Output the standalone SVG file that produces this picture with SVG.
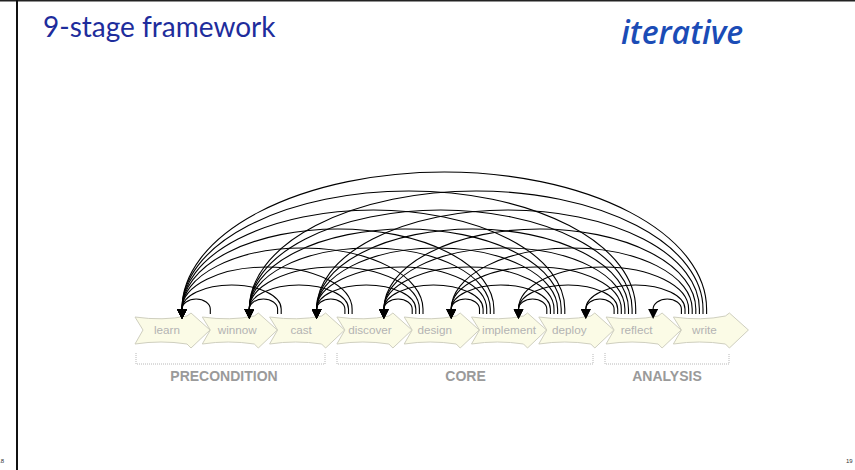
<svg xmlns="http://www.w3.org/2000/svg" xmlns:xlink="http://www.w3.org/1999/xlink" width="855" height="470" viewBox="0 0 855 470">
  <style>
    .title { font-family: "Lato", "Open Sans", "Liberation Sans", sans-serif; font-size: 28px; fill: #1e2d9c; }
    .tag { font-family: "Open Sans", "Liberation Sans", sans-serif; font-style: italic; font-weight: 600; font-size: 32px; fill: #1b4cb6; }
    .stage use { fill: #fbfbe6; stroke: #cfcfbf; stroke-width: 1; }
    .stage text { font-family: "Liberation Sans", Arial, sans-serif; font-size: 11.7px; fill: #b3b3b3; text-anchor: middle; }
    .arc { fill: none; stroke: #000; stroke-width: 1.1; marker-end: url(#head); }
    .bracket { fill: none; stroke: #b8b8b8; stroke-width: 1; stroke-dasharray: 1 1; }
    .phase { font-family: "Liberation Sans", Arial, sans-serif; font-weight: bold; font-size: 14px; fill: #9a9a9a; text-anchor: middle; }
    .page { font-family: "Liberation Sans", Arial, sans-serif; font-size: 6px; fill: #333; }
  </style>
  <defs>
    <marker id="head" markerUnits="userSpaceOnUse" markerWidth="11" markerHeight="10" refX="0" refY="5" orient="auto" viewBox="0 0 11 10">
      <path d="M0,0 L10,5 L0,10 Z" fill="#000"/>
    </marker>
    <path id="chev" d="M0,317 Q28,321 52,316 L56,313 L75,330 L56,348 L52,344 Q26,340 0,344 L8,330 Z"/>
  </defs>

  <rect width="855" height="470" fill="#fff"/>
  <!-- page frame -->
  <line x1="0" y1="0.5" x2="855" y2="0.5" stroke="#222" stroke-width="2"/>
  <line x1="17" y1="0" x2="17" y2="470" stroke="#111" stroke-width="2"/>
  <text class="page" x="4" y="463" text-anchor="end">18</text>
  <text class="page" x="846" y="463">19</text>

  <text class="title" x="43" y="37">9-stage framework</text>
  <text class="tag" x="621" y="44">iterative</text>

  <!-- stages, drawn right to left so each tip sits on the next notch -->
  <g id="write" class="stage" transform="translate(673.4,0)"><use xlink:href="#chev"/><text x="31" y="334">write</text></g>
  <g id="reflect" class="stage" transform="translate(606.1,0)"><use xlink:href="#chev"/><text x="30.5" y="334">reflect</text></g>
  <g id="deploy" class="stage" transform="translate(538.8,0)"><use xlink:href="#chev"/><text x="30.5" y="334">deploy</text></g>
  <g id="implement" class="stage" transform="translate(471.5,0)"><use xlink:href="#chev"/><text x="37.5" y="334">implement</text></g>
  <g id="design" class="stage" transform="translate(404.2,0)"><use xlink:href="#chev"/><text x="30.5" y="334">design</text></g>
  <g id="discover" class="stage" transform="translate(336.9,0)"><use xlink:href="#chev"/><text x="33" y="334">discover</text></g>
  <g id="cast" class="stage" transform="translate(269.6,0)"><use xlink:href="#chev"/><text x="31.5" y="334">cast</text></g>
  <g id="winnow" class="stage" transform="translate(202.3,0)"><use xlink:href="#chev"/><text x="35" y="334">winnow</text></g>
  <g id="learn" class="stage" transform="translate(135,0)"><use xlink:href="#chev"/><text x="32" y="334">learn</text></g>

  <!-- phase brackets -->
  <g id="precondition">
    <path class="bracket" d="M136,353 V364 H325 V353"/>
    <text class="phase" x="224" y="381">PRECONDITION</text>
  </g>
  <g id="core">
    <path class="bracket" d="M337,353 V364 H593 V353"/>
    <text class="phase" x="465.5" y="381">CORE</text>
  </g>
  <g id="analysis">
    <path class="bracket" d="M605,353 V364 H729 V353"/>
    <text class="phase" x="667" y="381">ANALYSIS</text>
  </g>

  <!-- feedback arcs: every stage loops back to each earlier stage -->
  <g id="connectors">
    <!-- one stage back -->
    <path class="arc" d="M210.3,314 V309 a14.15,10 0 0 0 -28.3,0"/>
    <path class="arc" d="M277.6,314 V309 a14.15,10 0 0 0 -28.3,0"/>
    <path class="arc" d="M344.9,314 V309 a14.15,10 0 0 0 -28.3,0"/>
    <path class="arc" d="M412.2,314 V309 a14.15,10 0 0 0 -28.3,0"/>
    <path class="arc" d="M479.5,314 V309 a14.15,10 0 0 0 -28.3,0"/>
    <path class="arc" d="M546.8,314 V309 a14.15,10 0 0 0 -28.3,0"/>
    <path class="arc" d="M614.1,314 V309 a14.15,10 0 0 0 -28.3,0"/>
    <path class="arc" d="M681.4,314 V309 a14.15,10 0 0 0 -28.3,0"/>
    <!-- two stages back -->
    <path class="arc" d="M281.2,314 V309 a49.6,24 0 0 0 -99.2,0"/>
    <path class="arc" d="M348.5,314 V309 a49.6,24 0 0 0 -99.2,0"/>
    <path class="arc" d="M415.8,314 V309 a49.6,24 0 0 0 -99.2,0"/>
    <path class="arc" d="M483.1,314 V309 a49.6,24 0 0 0 -99.2,0"/>
    <path class="arc" d="M550.4,314 V309 a49.6,24 0 0 0 -99.2,0"/>
    <path class="arc" d="M617.7,314 V309 a49.6,24 0 0 0 -99.2,0"/>
    <path class="arc" d="M685.0,314 V309 a49.6,24 0 0 0 -99.2,0"/>
    <!-- three stages back -->
    <path class="arc" d="M352.1,314 V309 a85.05,42 0 0 0 -170.1,0"/>
    <path class="arc" d="M419.4,314 V309 a85.05,42 0 0 0 -170.1,0"/>
    <path class="arc" d="M486.7,314 V309 a85.05,42 0 0 0 -170.1,0"/>
    <path class="arc" d="M554.0,314 V309 a85.05,42 0 0 0 -170.1,0"/>
    <path class="arc" d="M621.3,314 V309 a85.05,42 0 0 0 -170.1,0"/>
    <path class="arc" d="M688.6,314 V309 a85.05,42 0 0 0 -170.1,0"/>
    <!-- four stages back -->
    <path class="arc" d="M423.0,314 V309 a120.5,61 0 0 0 -241,0"/>
    <path class="arc" d="M490.3,314 V309 a120.5,61 0 0 0 -241,0"/>
    <path class="arc" d="M557.6,314 V309 a120.5,61 0 0 0 -241,0"/>
    <path class="arc" d="M624.9,314 V309 a120.5,61 0 0 0 -241,0"/>
    <path class="arc" d="M692.2,314 V309 a120.5,61 0 0 0 -241,0"/>
    <!-- five stages back -->
    <path class="arc" d="M493.9,314 V309 a155.95,80 0 0 0 -311.9,0"/>
    <path class="arc" d="M561.2,314 V309 a155.95,80 0 0 0 -311.9,0"/>
    <path class="arc" d="M628.5,314 V309 a155.95,80 0 0 0 -311.9,0"/>
    <path class="arc" d="M695.8,314 V309 a155.95,80 0 0 0 -311.9,0"/>
    <!-- six stages back -->
    <path class="arc" d="M564.8,314 V309 a191.4,99 0 0 0 -382.8,0"/>
    <path class="arc" d="M632.1,314 V309 a191.4,99 0 0 0 -382.8,0"/>
    <path class="arc" d="M699.4,314 V309 a191.4,99 0 0 0 -382.8,0"/>
    <!-- seven stages back -->
    <path class="arc" d="M635.7,314 V309 a226.85,118 0 0 0 -453.7,0"/>
    <path class="arc" d="M703.0,314 V309 a226.85,118 0 0 0 -453.7,0"/>
    <!-- eight stages back -->
    <path class="arc" d="M706.6,314 V309 a262.3,137 0 0 0 -524.6,0"/>
  </g>
</svg>
